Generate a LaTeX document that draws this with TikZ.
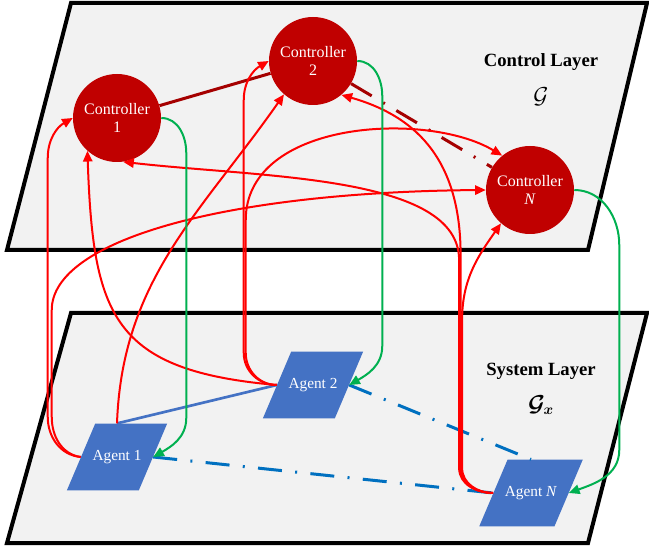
\documentclass[tikz,border=0pt]{standalone}
\usepackage{amsmath}
\usepackage{fontspec}
\setmainfont{Liberation Serif}
\usetikzlibrary{shapes.geometric,arrows.meta}

\definecolor{ctrlred}{HTML}{C00000}
\definecolor{linkred}{HTML}{A50000}
\definecolor{agentblue}{HTML}{4472C4}
\definecolor{linkblue}{HTML}{0070C0}
\definecolor{sendgreen}{HTML}{00B050}
\definecolor{planegray}{HTML}{F2F2F2}

\begin{document}
\begin{tikzpicture}[x=0.75pt,y=0.75pt,
    plane/.style={fill=planegray,draw=black,line width=3pt},
    controller/.style={circle,fill=ctrlred,text=white,minimum size=66pt,inner sep=0pt,align=center,font=\fontsize{12}{14}\selectfont},
    agent/.style={trapezium,trapezium left angle=67,trapezium right angle=113,trapezium stretches body,fill=agentblue,text=white,inner xsep=-2pt,inner ysep=19.75pt,text height=8pt,text depth=2.5pt,font=\fontsize{11.5}{13}\selectfont},
    report/.style={draw=red,line width=1.5pt,-{Triangle[length=8pt,width=7pt]}},
    command/.style={draw=sendgreen,line width=1.5pt,-{Triangle[length=8pt,width=7pt]}},
    dashdot/.style={dash pattern=on 18pt off 10pt on 1.5pt off 10pt},
    layer/.style={font=\fontsize{14}{16}\selectfont\bfseries}]
    \useasboundingbox (0,0) rectangle (649,-548);
    % the two layers
    \draw[plane] (71,-3) -- (647,-3) -- (588,-250) -- (7,-250) -- cycle;
    \draw[plane] (71,-313) -- (647,-313) -- (588,-543) -- (7,-543) -- cycle;
    \node[layer] (ctrltitle) at (541,-62) {Control Layer};
    \node (ctrlgraph) at (541,-97) {\fontsize{16}{18}\selectfont$\mathcal{G}$};
    \node[layer] (systitle) at (541,-371) {System Layer};
    \node (sysgraph) at (541,-405) {\fontsize{16}{18}\selectfont$\boldsymbol{\mathcal{G}_x}$};
    % controllers and agents
    \node[controller] (c1) at (117,-118) {Controller\\1};
    \node[controller] (c2) at (313,-61) {Controller\\2};
    \node[controller] (cN) at (530,-190) {Controller\\\textit{N}};
    \node[agent] (a1) at (117,-457) {Agent 1};
    \node[agent] (a2) at (313,-385) {Agent 2};
    \node[agent] (aN) at (531,-493) {Agent \textit{N}};
    % links inside the layers
    \draw[linkred,line width=2.25pt] (c1) -- (c2);
    \draw[linkred,line width=2.25pt,dashdot] (c2) -- (cN);
    \draw[agentblue,line width=2pt] (a1.north) -- (a2.west);
    \draw[linkblue,line width=2.25pt,dashdot] (a1.east) -- (aN.west);
    \draw[linkblue,line width=2.25pt,dashdot] (a2.east) -- (aN.north);
    % agent 1 to controllers
    \draw[report] (a1.west) to[out=175,in=-90] ++(-33,40) -- ++(0,259) to[out=90,in=210] (c1.west);
    \draw[report] (a1.west) to[out=172,in=-90] ++(-29,40) -- ++(0,107) .. controls +(0,70) and +(-260,-2) .. (cN.west);
    \draw[report] (a1.north) to[out=88,in=235] (c2.229);
    % agent 2 to controllers
    \draw[report] (a2.west) to[out=175,in=-88,looseness=1.4] (c1.228);
    \draw[report] (a2.west) to[out=180,in=-90] ++(-33,32) -- ++(0,253) to[out=90,in=210] (c2.west);
    \draw[report] (a2.west) to[out=180,in=-90] ++(-31,32) -- ++(0,133) .. controls +(0,100) and +(-75,45) .. (cN.129);
    % agent N to controllers
    \draw[report] (aN.west) to[out=180,in=-90] ++(-31,25) -- ++(0,148) to[out=90,in=235] (cN.229);
    \draw[report] (aN.west) to[out=180,in=-90] ++(-32.5,25) -- ++(0,213) .. controls +(0,100) and +(70,-20) .. (c2.310);
    \draw[report] (aN.west) to[out=180,in=-90] ++(-34,25) -- ++(0,208) .. controls +(0,85) and +(140,-16) .. (c1.-82);
    % controllers to their agents
    \draw[command] (c1.east) to[out=0,in=90] ++(25,-35) -- ++(0,-265) to[out=-90,in=30] (a1.east);
    \draw[command] (c2.east) to[out=0,in=90] ++(25,-35) -- ++(0,-250) to[out=-90,in=30] (a2.east);
    \draw[command] (cN.east) to[out=0,in=90] ++(45,-55) -- ++(0,-205) to[out=-90,in=20] (aN.east);
\end{tikzpicture}
\end{document}
